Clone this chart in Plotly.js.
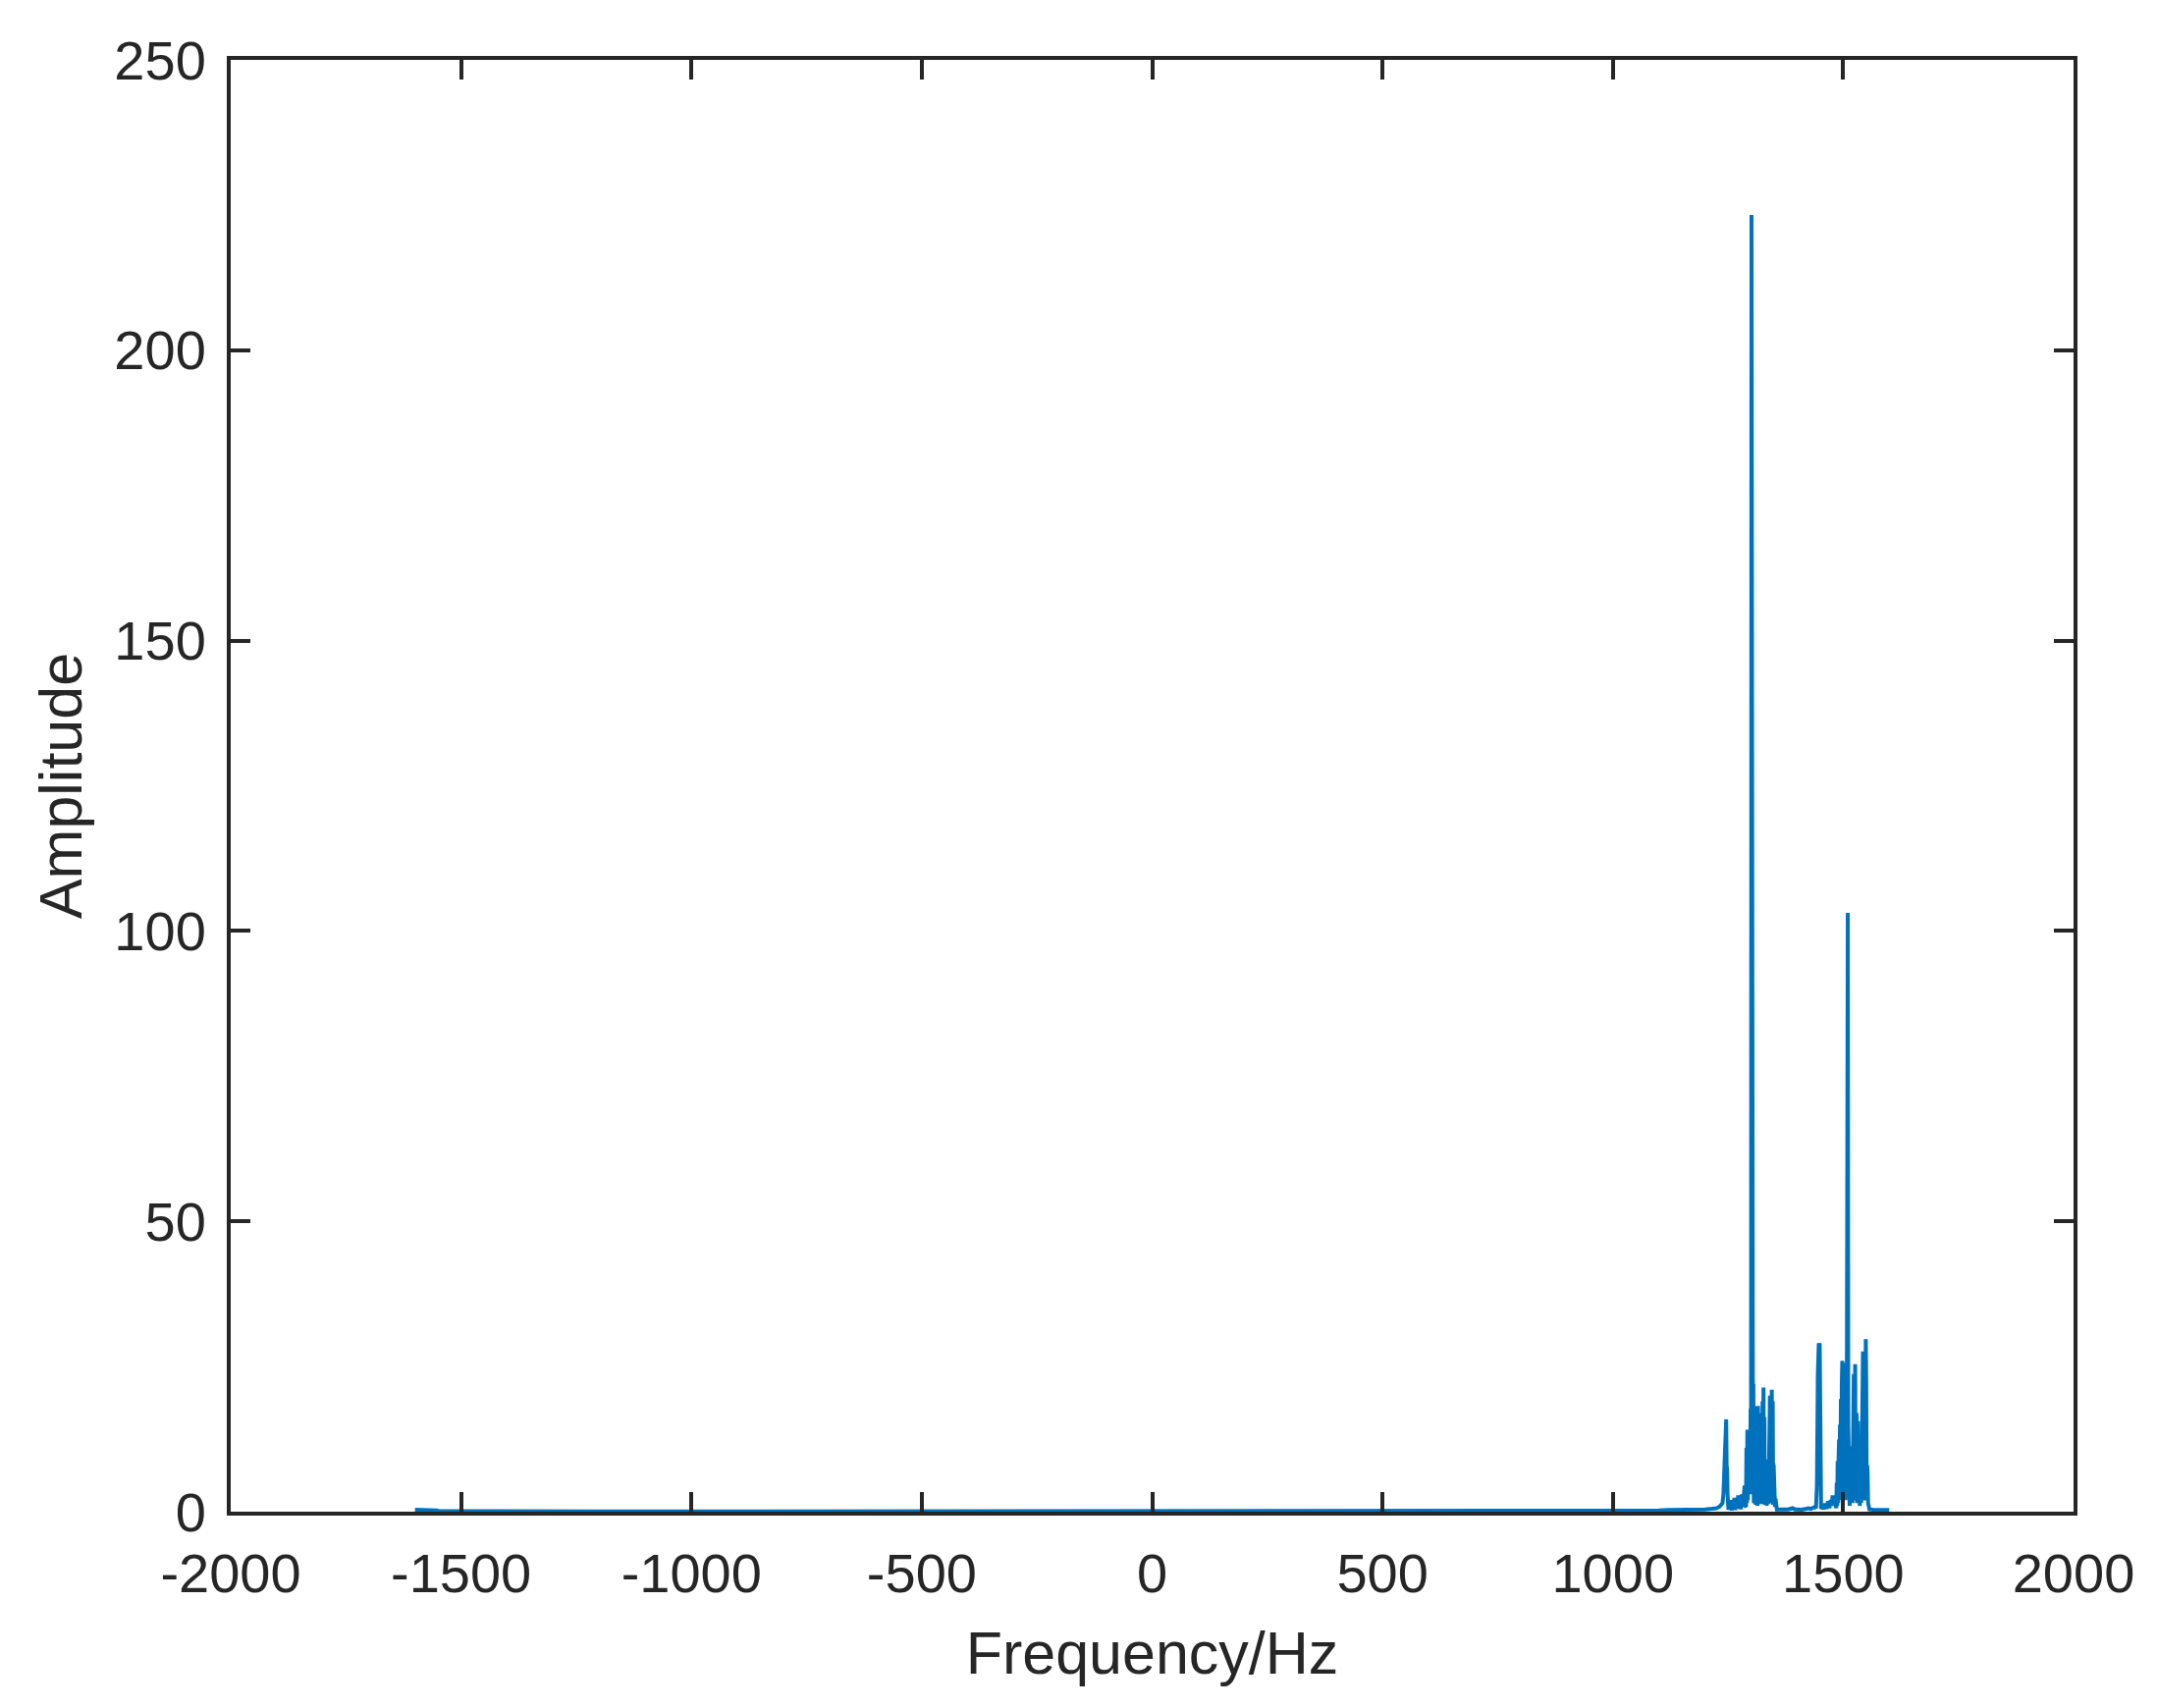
<!DOCTYPE html>
<html>
<head>
<meta charset="utf-8">
<script src="https://cdn.plot.ly/plotly-3.0.1.min.js"></script>
<style>html,body{margin:0;padding:0;background:#fff;}</style>
</head>
<body>
<div id="chart" style="width:2197px;height:1740px;"></div>
<script>
// Background (near-zero) part of the spectrum, Hz / amplitude
const bgFreq = [-1600,-1590,-1580,-1570,-1560,-1553,-1548,-1500,-1450,-1300,-1200,-1000,-800,-600,-400,-200,0,200,400,600,800,1000,1100,1120,1150,1180,1200,1215,1225,1232,1236];
const bgAmp  = [0.35,0.32,0.36,0.30,0.33,0.20,0.08,0.06,0.05,0.05,0.04,0.04,0.04,0.04,0.04,0.04,0.04,0.05,0.05,0.06,0.07,0.10,0.20,0.30,0.30,0.35,0.40,0.50,0.60,0.90,1.20];

// Small peak near 1246 Hz and noisy floor up to the first cluster
const peakAFreq = [1238,1240,1242,1243,1244,1245,1246,1247,1248,1249,1250,1251,1252,1254,1256,1258,1260,1262,1264,1266,1268,1270,1272,1274,1276,1278,1280,1282,1284];
const peakAAmp  = [1.5,3.0,8.5,12.0,15.9,15.5,15.9,8.0,7.3,3.0,1.2,0.3,1.5,0.4,2.0,0.2,1.9,0.5,2.4,0.3,2.0,0.6,2.8,0.5,2.2,0.4,3.0,1.0,2.5];

// First cluster around the 1301 Hz main peak
const cluster1Freq = [1286,1287,1288,1289,1290,1291,1292,1293,1294,1295,1296,1297,1298,1299,1300,1301,1302,1303,1304,1305,1306,1307,1308,1309,1310,1311,1312,1313,1314,1315,1316,1317,1318,1319,1320,1321,1322,1323,1324,1325,1326,1327,1328,1329,1330,1331,1332,1333,1334,1335,1336,1337,1338,1339,1340,1341,1342,1343,1344,1345,1346,1347,1348,1349,1350,1351,1352,1353,1354,1355,1356];
const cluster1Amp  = [4.5,1.0,5.5,0.8,11.0,1.5,14.1,2.0,11.3,3.0,12.0,14.1,3.0,17.7,5.0,223.3,68.3,28.0,10.0,22.0,1.5,13.0,2.0,16.0,1.2,18.1,3.0,17.0,1.0,18.2,2.5,12.0,1.5,17.0,2.0,14.0,1.3,10.0,3.0,19.0,1.5,21.4,2.0,16.3,1.2,13.0,2.2,9.0,1.0,8.5,2.5,6.8,1.3,12.0,2.0,20.0,1.5,17.0,3.0,21.0,2.0,19.0,1.2,8.2,1.0,4.0,0.8,2.3,0.6,0.5,0.4];

// Floor between the clusters and the 1448 Hz peak
const midFreq = [1360,1370,1380,1390,1395,1400,1410,1420,1425,1430,1435,1438,1441,1443,1445,1446,1447,1448,1449,1450,1451,1452,1453,1456,1458,1461,1464,1467,1470,1473,1475,1477,1479,1481,1483];
const midAmp  = [0.4,0.35,0.4,0.6,0.4,0.4,0.35,0.5,0.6,0.5,0.6,0.8,0.6,4.5,23.7,27.0,29.0,28.7,29.0,15.0,1.1,0.5,0.6,1.2,0.4,1.4,0.5,1.8,0.6,2.0,1.0,2.8,1.2,2.5,0.8];

// Second cluster around the 1510 Hz peak
const cluster2Freq = [1484,1485,1486,1487,1488,1489,1490,1491,1492,1493,1494,1495,1496,1497,1498,1499,1500,1501,1502,1503,1504,1505,1506,1507,1508,1509,1510,1511,1512,1513,1514,1515,1516,1517,1518,1519,1520,1521,1522,1523,1524,1525,1526,1527,1528,1529,1530,1531,1532,1533,1534,1535,1536,1537,1538,1539,1540,1541,1542,1543,1544,1545,1546,1547,1548,1549,1550,1551,1552,1553,1554,1555,1556,1557];
const cluster2Amp  = [1.5,0.6,5.0,1.0,8.7,1.5,9.0,12.4,2.0,15.0,3.0,19.4,2.0,22.0,26.0,4.0,25.6,3.0,20.0,5.0,13.5,2.0,10.0,4.0,22.0,81.3,103.1,15.0,1.5,3.4,1.0,7.0,10.1,2.0,8.0,11.3,1.5,18.0,2.5,23.7,3.0,20.0,25.4,2.0,14.0,17.0,1.5,12.0,15.6,2.0,7.0,9.6,1.0,2.0,5.0,1.5,11.3,2.0,18.0,27.6,3.0,20.0,2.0,25.0,4.0,29.7,22.0,2.0,8.0,6.8,1.5,1.1,0.6,0.4];

// Tail to the Nyquist edge
const tailFreq = [1565,1575,1585,1595,1600];
const tailAmp  = [0.35,0.3,0.35,0.3,0.3];

const xTicks = [-2000,-1500,-1000,-500,0,500,1000,1500,2000];
const yTicks = [0,50,100,150,200,250];

const freq = [].concat(bgFreq, peakAFreq, cluster1Freq, midFreq, cluster2Freq, tailFreq);
const amp  = [].concat(bgAmp, peakAAmp, cluster1Amp, midAmp, cluster2Amp, tailAmp);

const axisColor = '#262626';
const fontFam = 'Liberation Sans, Arial, Helvetica, sans-serif';

const trace = {
  x: freq, y: amp, type: 'scatter', mode: 'lines',
  line: {color: '#0072BD', width: 4},
  hoverinfo: 'skip'
};

const common = {
  showgrid: false, zeroline: false, showline: true, mirror: 'ticks',
  linecolor: axisColor, linewidth: 4,
  ticks: 'inside', ticklen: 20, tickwidth: 4, tickcolor: axisColor,
  tickfont: {family: fontFam, size: 56, color: axisColor}
};

const layout = {
  width: 2197, height: 1740,
  margin: {l: 235, r: 85, t: 61, b: 200},
  paper_bgcolor: '#ffffff', plot_bgcolor: '#ffffff',
  showlegend: false,
  xaxis: Object.assign({}, common, {
    range: [-2000, 2000], tickmode: 'array', tickvals: xTicks,
    ticktext: xTicks.map(String), ticklabelstandoff: 11,
    title: {text: 'Frequency/Hz', font: {family: fontFam, size: 61, color: axisColor}, standoff: 30}
  }),
  yaxis: Object.assign({}, common, {
    range: [0, 250], tickmode: 'array', tickvals: yTicks,
    ticktext: yTicks.map(String), ticklabelstandoff: 10,
    title: {text: 'Amplitude', font: {family: fontFam, size: 61, color: axisColor}, standoff: 14}
  })
};

Plotly.newPlot('chart', [trace], layout, {staticPlot: true, displayModeBar: false});
</script>
</body>
</html>
